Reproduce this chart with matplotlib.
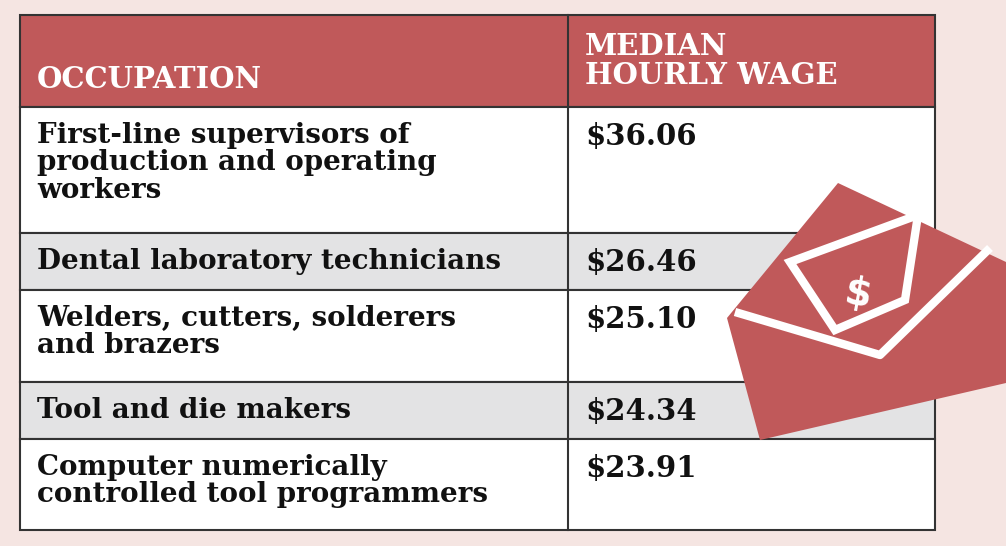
import matplotlib.pyplot as plt
from matplotlib.patches import Rectangle, Polygon

occupations = [
    "First-line supervisors of\nproduction and operating\nworkers",
    "Dental laboratory technicians",
    "Welders, cutters, solderers\nand brazers",
    "Tool and die makers",
    "Computer numerically\ncontrolled tool programmers",
]
wages = [36.06, 26.46, 25.10, 24.34, 23.91]
headers = ["OCCUPATION", "MEDIAN\nHOURLY WAGE"]

red = "#c0595a"
gray = "#e3e3e4"
edge = "#333333"

fig = plt.figure(figsize=(10.06, 5.46), dpi=100)
fig.patch.set_facecolor("#f5e5e2")
ax = fig.add_axes([0, 0, 1, 1])
ax.set_xlim(0, 1006)
ax.set_ylim(546, 0)
ax.axis("off")

x0, xs, x1 = 20, 568, 935
row_edges = [15, 107, 233, 290, 382, 439, 530]

# header
ax.add_patch(Rectangle((x0, row_edges[0]), x1 - x0, row_edges[1] - row_edges[0], fc=red, ec=edge, lw=1.5))
ax.text(37, 79, headers[0], color="white", fontsize=21, fontweight="bold", family="DejaVu Serif", va="center")
ax.text(585, 61, headers[1], color="white", fontsize=21, fontweight="bold", family="DejaVu Serif", va="center", linespacing=1.0)

for i, (occ, w) in enumerate(zip(occupations, wages)):
    top, bot = row_edges[i + 1], row_edges[i + 2]
    fc = gray if i % 2 == 1 else "white"
    ax.add_patch(Rectangle((x0, top), x1 - x0, bot - top, fc=fc, ec=edge, lw=1.5))
    ax.text(37, top + 15, occ, fontsize=20, fontweight="semibold", family="DejaVu Serif", va="top", linespacing=1.02, color="#111111")
    ax.text(585, top + 15, f"${w:.2f}", fontsize=21, fontweight="bold", family="DejaVu Serif", va="top", color="#111111")

ax.plot([xs, xs], [row_edges[0], row_edges[-1]], color=edge, lw=1.5)

# envelope icon
ax.add_patch(Polygon([(727, 318), (838, 183), (1006, 262), (1006, 383), (760, 440)], closed=True, fc=red, ec="none", zorder=5))
ax.add_patch(Polygon([(790, 262), (918, 215), (905, 300), (835, 330)], closed=True, fc=red, ec="white", lw=6, zorder=6))
ax.plot([735, 880, 990], [312, 355, 248], color="white", lw=6, zorder=7, solid_capstyle="butt")
ax.text(858, 295, "$", color="white", fontsize=28, fontweight="bold", family="DejaVu Sans", ha="center", va="center", rotation=-10, zorder=8)

fig.savefig("out.png", dpi=100, facecolor=fig.get_facecolor())
